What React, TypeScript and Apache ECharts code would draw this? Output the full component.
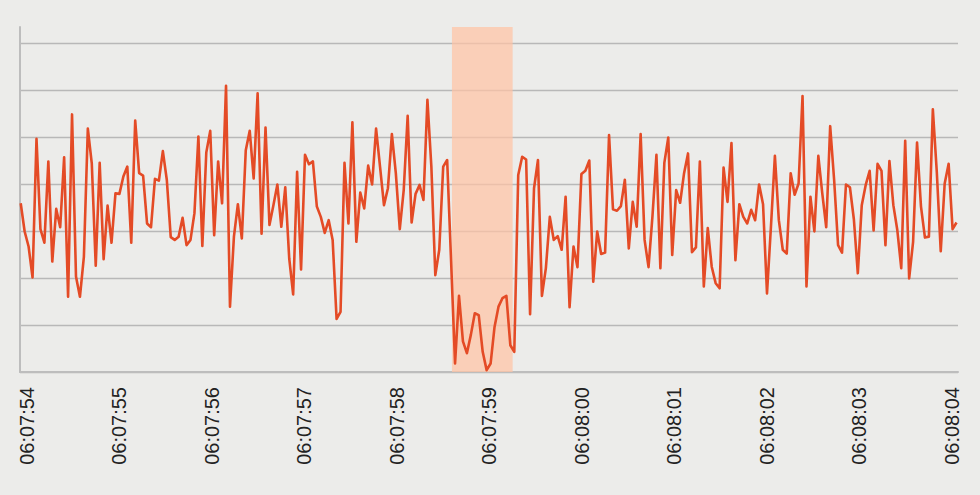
import { useEffect, useRef } from 'react'

import * as echarts from 'echarts'

// seconds past 06:07:00
const tickLabels = [
  '06:07:54', '06:07:55', '06:07:56', '06:07:57', '06:07:58', '06:07:59',
  '06:08:00', '06:08:01', '06:08:02', '06:08:03', '06:08:04',
]
const firstTick = 54
const axisStart = 53.928
const axisEnd = 64.069
const sampleStart = 53.9356
const sampleStep = 0.04269

const values = [
  3.59, 2.99, 2.67, 2.01, 4.96, 3.04, 2.75, 4.48, 2.35, 3.47,
  3.08, 4.57, 1.6, 5.48, 2.03, 1.6, 2.45, 5.18, 4.44, 2.26,
  4.45, 2.4, 3.54, 2.75, 3.8, 3.79, 4.16, 4.37, 2.75, 5.35,
  4.23, 4.18, 3.16, 3.08, 4.11, 4.07, 4.7, 4.09, 2.87, 2.81,
  2.88, 3.28, 2.7, 2.81, 3.38, 5.01, 2.68, 4.67, 5.13, 2.91,
  4.48, 3.59, 6.09, 1.39, 2.88, 3.57, 2.84, 4.72,
  5.13, 4.12, 5.93, 2.94, 5.2, 3.13, 3.55, 3.99, 3.09, 3.93,
  2.42, 1.65, 4.26, 2.18, 4.62, 4.42, 4.48, 3.52, 3.3, 2.96,
  3.23, 2.81, 1.13, 1.28, 4.45, 3.16, 5.31, 2.77, 3.82, 3.48,
  4.39, 3.99, 5.18, 4.37, 3.55, 3.91, 5.06, 4.23, 3.04, 3.87,
  5.45, 3.18, 3.79, 3.98, 3.66, 5.79, 4.37, 2.06, 2.6, 4.37,
  4.51, 2.35, 0.18, 1.62, 0.65, 0.4, 0.79, 1.25, 1.21, 0.43,
  0.04, 0.18,
  0.96, 1.39, 1.57, 1.62, 0.57, 0.43, 4.19, 4.58, 4.52, 1.23,
  3.91, 4.51, 1.62, 2.21, 3.3, 2.81, 2.89, 2.6, 3.73, 1.38,
  2.67, 2.23, 4.21, 4.28, 4.5, 1.92, 2.99, 2.51, 2.54, 5.04,
  3.46, 3.43, 3.53, 4.09, 2.63, 3.62, 3.09, 5.06, 2.81, 2.23,
  3.32, 4.62, 2.21, 4.45, 4.99, 2.49, 3.87, 3.6, 4.23, 4.65,
  2.55, 2.65, 4.48, 1.82, 3.06, 2.24, 1.89, 1.78, 4.35, 3.62,
  4.87,
  2.38, 3.57, 3.3, 3.16, 3.45, 3.23, 3.99, 3.57, 1.67, 3.09,
  4.6, 3.23, 2.6, 2.52, 4.23, 3.77, 4.01, 5.87, 1.82, 3.73,
  2.99, 4.6, 3.8, 3.08, 5.23, 4.09, 2.7, 2.54, 3.99, 3.93,
  3.25, 2.1, 3.55, 3.98, 4.28, 3.01, 4.43, 4.28, 2.7, 4.49,
  3.55, 3.02, 2.21, 4.92, 1.99, 2.77, 4.88, 3.52, 2.86, 2.88,
  5.59, 4.26, 2.57, 4.01, 4.43, 3.04, 3.18,
]

// shaded window, seconds past 06:07:00
const highlight = [58.598, 59.254]

export default function App() {
  const main = useRef<HTMLDivElement>(null)
  useEffect(() => {
    const points = values.map((v, i) => [sampleStart + i * sampleStep, v])
    const option = {
      animation: false,
      backgroundColor: '#ececea',
      grid: { left: 20, right: 22, top: 27, bottom: 123 },
      xAxis: {
        type: 'value',
        min: axisStart,
        max: axisEnd,
        splitNumber: 10,
        axisLine: { lineStyle: { color: '#bdbdbd', width: 2 } },
        axisTick: { show: false },
        splitLine: { show: false },
        axisLabel: {
          rotate: 90,
          margin: 15,
          fontSize: 20,
          color: '#222',
          fontFamily: 'Liberation Sans',
          showMinLabel: false,
          showMaxLabel: false,
          formatter: (v: number) => tickLabels[Math.round(v) - firstTick] ?? '',
        },
      },
      yAxis: {
        type: 'value',
        min: 0,
        max: 7.34,
        interval: 1,
        axisLine: { show: true, lineStyle: { color: '#bdbdbd', width: 2 } },
        axisTick: { show: false },
        axisLabel: { show: false },
        splitLine: {
          show: true,
          showMaxLine: false,
          lineStyle: { color: '#b8b8b8', width: 1.3 },
        },
      },
      series: [
        {
          type: 'line',
          data: points,
          showSymbol: false,
          lineStyle: { color: '#e44b26', width: 2.6, join: 'round' },
          markArea: {
            silent: true,
            itemStyle: { color: 'rgba(255,195,165,0.72)' },
            data: [[{ xAxis: highlight[0] }, { xAxis: highlight[1] }]],
          },
        },
      ],
    }
    const myChart = echarts.init(main.current, null, { renderer: 'svg' })
    myChart.setOption(option)
    return () => {
      myChart.dispose()
    }
  }, [])
  return (
    <div
      ref={main}
      style={{ position: 'fixed', left: 0, top: 0, width: '980px', height: '495px' }}
    ></div>
  )
}
